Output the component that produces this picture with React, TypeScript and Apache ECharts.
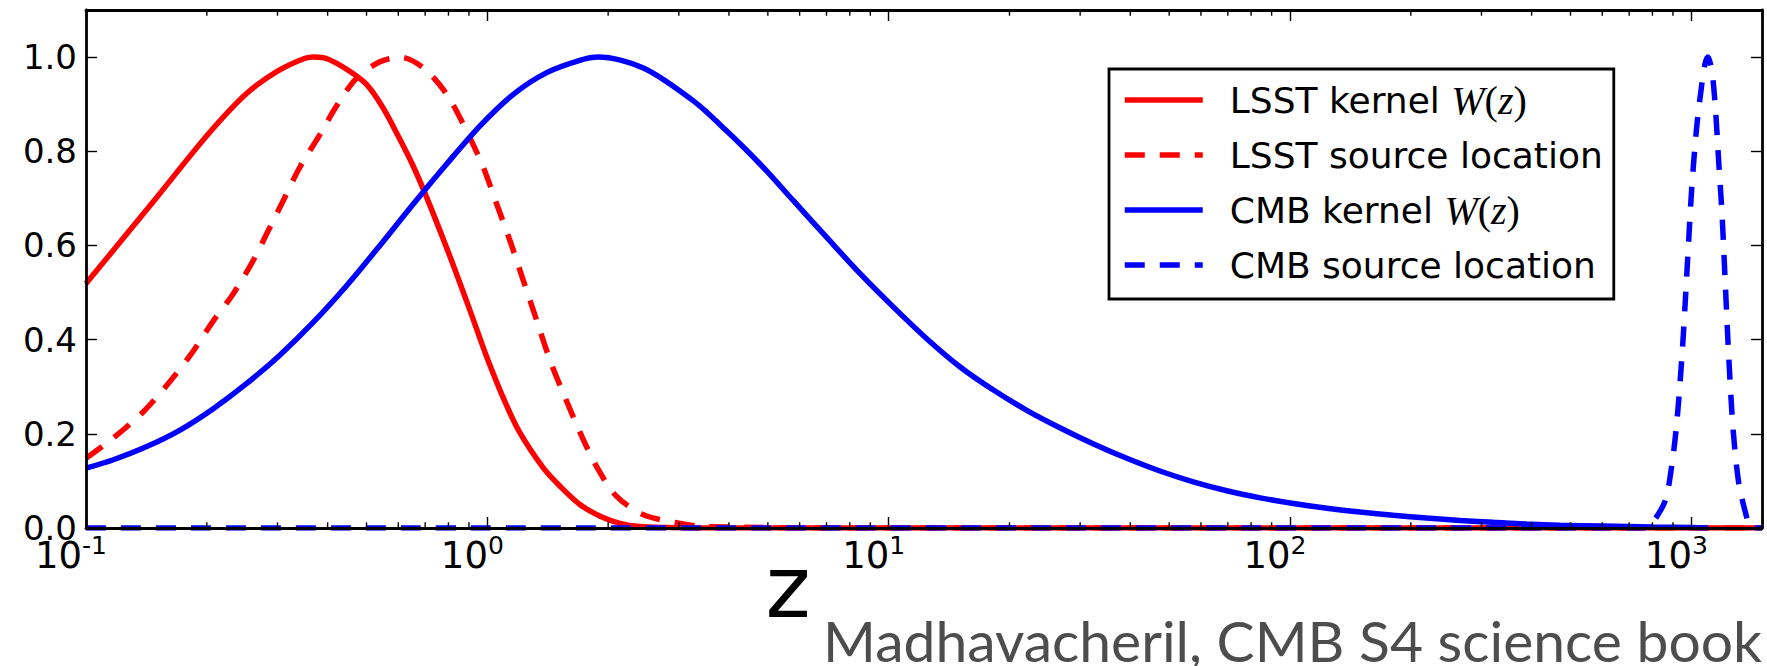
import React, { useEffect, useRef } from 'react';
import * as echarts from 'echarts';

// ---------- data ----------
const lsstKernelZ = [0.1, 0.15, 0.2, 0.25, 0.3, 0.35, 0.37, 0.4, 0.45, 0.5, 0.55, 0.6, 0.65, 0.7, 0.8, 0.9, 1.0, 1.1, 1.2, 1.38, 1.52, 1.7, 1.91, 2.14, 2.4, 2.8, 3.5, 10, 100, 1500];
const lsstKernelW = [0.519, 0.702, 0.833, 0.921, 0.97, 0.997, 1.0, 0.996, 0.972, 0.942, 0.892, 0.832, 0.773, 0.71, 0.585, 0.468, 0.36, 0.273, 0.205, 0.127, 0.088, 0.05, 0.025, 0.01, 0.003, 0.001, 0, 0, 0, 0];

const lsstSourceZ = [0.1, 0.117, 0.139, 0.159, 0.182, 0.208, 0.233, 0.261, 0.282, 0.31, 0.341, 0.383, 0.421, 0.473, 0.54, 0.606, 0.693, 0.792, 0.888, 0.977, 1.055, 1.139, 1.229, 1.327, 1.433, 1.55, 1.7, 1.873, 2.1, 2.45, 2.96, 3.5, 10, 100, 1500];
const lsstSourceW = [0.148, 0.191, 0.247, 0.303, 0.367, 0.441, 0.498, 0.568, 0.625, 0.695, 0.766, 0.836, 0.896, 0.956, 0.99, 1.0, 0.977, 0.921, 0.843, 0.766, 0.688, 0.61, 0.526, 0.441, 0.356, 0.284, 0.204, 0.13, 0.067, 0.028, 0.011, 0.003, 0, 0, 0];

const cmbKernelZ = [0.1, 0.117, 0.1417, 0.1715, 0.208, 0.2515, 0.304, 0.3686, 0.4464, 0.54, 0.654, 0.792, 0.959, 1.161, 1.406, 1.7, 1.89, 2.448, 3.262, 3.95, 4.78, 5.79, 7.01, 8.49, 10.28, 12.44, 15.07, 18.24, 22.08, 26.7, 32.3, 39.2, 47.4, 57.4, 69.6, 84.3, 102, 123.5, 149.5, 181, 219, 265.6, 321.5, 389, 471, 600, 800, 1000, 1100];
const cmbKernelW = [0.127, 0.145, 0.173, 0.208, 0.254, 0.307, 0.367, 0.437, 0.515, 0.6, 0.688, 0.773, 0.854, 0.921, 0.967, 0.993, 1.0, 0.977, 0.907, 0.843, 0.773, 0.695, 0.617, 0.54, 0.469, 0.402, 0.342, 0.293, 0.25, 0.213, 0.179, 0.148, 0.121, 0.098, 0.079, 0.064, 0.052, 0.042, 0.034, 0.027, 0.021, 0.016, 0.012, 0.0085, 0.006, 0.004, 0.002, 0.001, 0];

const cmbSourceZ = [0.1, 780, 797, 860, 894, 920, 947, 965, 984, 1003, 1032, 1063, 1083, 1100, 1126, 1148, 1170, 1193, 1216, 1240, 1271, 1313, 1377, 1400, 1500];
const cmbSourceW = [0, 0, 0.008, 0.057, 0.133, 0.224, 0.361, 0.475, 0.604, 0.725, 0.854, 0.945, 0.987, 1.0, 0.968, 0.892, 0.778, 0.664, 0.513, 0.361, 0.209, 0.095, 0.019, 0, 0];

const seriesNames = ['LSST kernel W(z)', 'LSST source location', 'CMB kernel W(z)', 'CMB source location'];
const yTickValues = [0, 0.2, 0.4, 0.6, 0.8, 1.0];
const xMinorTicks = [
  0.2, 0.3, 0.4, 0.5, 0.6, 0.7, 0.8, 0.9,
  2, 3, 4, 5, 6, 7, 8, 9,
  20, 30, 40, 50, 60, 70, 80, 90,
  200, 300, 400, 500, 600, 700, 800, 900,
];
const xAxisTitle = 'z';
const citation = 'Madhavacheril, CMB S4 science book';

// ---------- styling ----------
const FONT = 'DejaVu Sans';
const RED = '#ff0000';
const BLUE = '#0000ff';
const LW = 5.5;
const DASH = [20, 15];

const pair = (zs: number[], ws: number[]) => zs.map((z, i) => [z, ws[i]]);

const axisLineStyle = { color: '#000', width: 2.8 };
const majorTick = { show: true, inside: true, length: 11, lineStyle: { color: '#000', width: 1.4 } };

function xLabel(v: number) {
  const e = Math.log10(v);
  const r = Math.round(e);
  if (Math.abs(e - r) > 1e-6) return '';
  return `{b|10}{s|${r}}`;
}

function yLabel(v: number) {
  const ok = yTickValues.some((t) => Math.abs(t - v) < 1e-6);
  return ok ? v.toFixed(1) : '';
}

function legendLabel(name: string) {
  return name.replace(' W(z)', ' {w|W}{p|(}{w|z}{p|)}');
}

const lineSeries = (name: string, data: number[][], color: string, dashed: boolean) => ({
  name,
  type: 'line',
  data,
  symbol: 'none',
  showSymbol: false,
  smooth: 0.3,
  clip: true,
  z: 2,
  itemStyle: { color },
  lineStyle: { color, width: LW, type: dashed ? DASH : 'solid', cap: 'butt' },
  emphasis: { disabled: true },
});

const option: any = {
  animation: false,
  backgroundColor: '#ffffff',
  grid: { left: 86, right: 5, top: 10, bottom: 138, containLabel: false },
  xAxis: [
    {
      type: 'log',
      logBase: 10,
      min: 0.1,
      max: 1500,
      position: 'bottom',
      z: 5,
      axisLine: { show: true, onZero: false, lineStyle: axisLineStyle },
      axisTick: majorTick,
      splitLine: { show: false },
      axisLabel: {
        show: true,
        margin: 5,
        formatter: xLabel,
        padding: [0, 30, 0, 0],
        rich: {
          b: { fontSize: 37, fontFamily: FONT, color: '#000', lineHeight: 44 },
          s: { fontSize: 25, fontFamily: FONT, color: '#000', lineHeight: 19, verticalAlign: 'top' },
        },
      },
    },
    {
      type: 'log',
      logBase: 10,
      min: 0.1,
      max: 1500,
      position: 'top',
      z: 5,
      axisLine: { show: true, onZero: false, lineStyle: axisLineStyle },
      axisTick: majorTick,
      splitLine: { show: false },
      axisLabel: { show: false },
    },
  ],
  yAxis: [
    {
      type: 'value',
      min: 0,
      max: 1.1,
      interval: 0.2,
      position: 'left',
      z: 5,
      axisLine: { show: true, onZero: false, lineStyle: axisLineStyle },
      axisTick: majorTick,
      splitLine: { show: false },
      axisLabel: { show: true, margin: 9, fontSize: 34, fontFamily: FONT, color: '#000', formatter: yLabel },
    },
    {
      type: 'value',
      min: 0,
      max: 1.1,
      interval: 0.2,
      position: 'right',
      z: 5,
      axisLine: { show: true, onZero: false, lineStyle: axisLineStyle },
      axisTick: majorTick,
      splitLine: { show: false },
      axisLabel: { show: false },
    },
  ],
  legend: {
    data: seriesNames,
    orient: 'vertical',
    left: 1109,
    top: 69,
    itemWidth: 78,
    itemHeight: 42,
    itemGap: 13,
    padding: [10, 11, 13, 13],
    borderColor: '#000',
    borderWidth: 2.8,
    borderRadius: 0,
    backgroundColor: '#ffffff',
    selectedMode: false,
    z: 6,
    itemStyle: { opacity: 0 },
    lineStyle: { width: LW },
    formatter: legendLabel,
    textStyle: {
      fontSize: 36,
      fontFamily: FONT,
      color: '#000',
      lineHeight: 42,
      padding: [0, 0, 0, 22],
      rich: {
        w: { fontFamily: 'Liberation Serif', fontStyle: 'italic', fontSize: 40, color: '#000', lineHeight: 42 },
        p: { fontFamily: 'Liberation Serif', fontSize: 40, color: '#000', lineHeight: 42 },
      },
    },
  },
  series: [
    lineSeries(seriesNames[0], pair(lsstKernelZ, lsstKernelW), RED, false),
    lineSeries(seriesNames[1], pair(lsstSourceZ, lsstSourceW), RED, true),
    lineSeries(seriesNames[2], pair(cmbKernelZ, cmbKernelW), BLUE, false),
    lineSeries(seriesNames[3], pair(cmbSourceZ, cmbSourceW), BLUE, true),
    {
      name: 'minorTicks',
      type: 'custom',
      silent: true,
      clip: false,
      z: 6,
      data: xMinorTicks.map((v) => [v, 0]),
      renderItem: (_p: any, api: any) => {
        const v = api.value(0);
        const b = api.coord([v, 0]);
        const t = api.coord([v, 1.1]);
        const st = { stroke: '#000', lineWidth: 1.4 };
        return {
          type: 'group',
          children: [
            { type: 'line', shape: { x1: b[0], y1: b[1], x2: b[0], y2: b[1] - 5.7 }, style: st },
            { type: 'line', shape: { x1: t[0], y1: t[1], x2: t[0], y2: t[1] + 5.7 }, style: st },
          ],
        };
      },
    },
  ],
  graphic: [
    {
      type: 'text',
      x: 788,
      y: 587,
      silent: true,
      style: { text: xAxisTitle, fontSize: 86, fontFamily: FONT, fill: '#000', align: 'center', verticalAlign: 'middle' },
    },
    {
      type: 'text',
      x: 1762,
      y: 640,
      silent: true,
      style: { text: citation, fontSize: 57, fontFamily: 'Lato', fill: '#4d4d4d', align: 'right', verticalAlign: 'middle' },
    },
  ],
};

export default function App() {
  const ref = useRef<HTMLDivElement>(null);
  useEffect(() => {
    const chart = echarts.init(ref.current as HTMLDivElement, null, { renderer: 'svg' });
    chart.setOption(option);
    return () => chart.dispose();
  }, []);
  return (
    <div
      ref={ref}
      style={{ position: 'fixed', left: 0, top: 0, width: 1767, height: 666, background: '#fff', overflow: 'hidden' }}
    />
  );
}
